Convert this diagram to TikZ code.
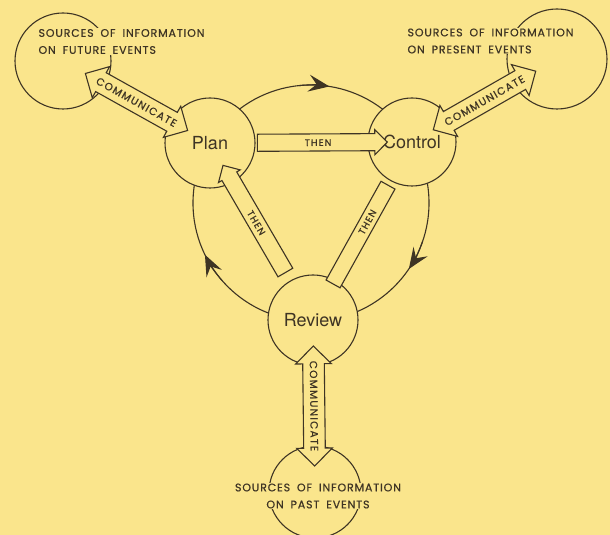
\documentclass[tikz,border=0pt]{standalone}
\usepackage{fontspec}
\setmainfont{TeX Gyre Heros}
\newfontfamily\capsfont[LetterSpace=12, FakeBold=0.6]{Poppins}
\newfontfamily\sourcefont[LetterSpace=8, WordSpace=1.8, FakeBold=0.6]{Poppins}
\usetikzlibrary{shapes.arrows,arrows.meta}
\definecolor{paper}{RGB}{250,229,140}
\definecolor{ink}{RGB}{62,52,36}

\begin{document}
\begin{tikzpicture}[x=1pt, y=1pt, line width=1.1pt, color=ink,
	stage/.style={circle, draw=ink, fill=paper, minimum size=90pt, inner sep=0pt,
		font=\fontsize{18}{20}\selectfont},
	source/.style={circle, draw=ink, fill=paper, minimum size=96pt, inner sep=0pt},
	sourcetext/.style={fill=paper, inner sep=1pt, font=\sourcefont\fontsize{11}{17}\selectfont},
	commarrow/.style={double arrow, draw=ink, fill=paper, sloped, minimum height=#1,
		double arrow head extend=7pt, text height=7.5pt, text depth=0pt,
		inner ysep=6.5pt, inner xsep=2pt, font=\capsfont\fontsize{10.5}{12}\selectfont},
	thenarrow/.style={single arrow, draw=ink, fill=paper, sloped, minimum height=#1,
		single arrow head extend=4pt, text height=7pt, text depth=0pt,
		inner ysep=4.5pt, inner xsep=2pt, font=\capsfont\fontsize{9.5}{11}\selectfont},
	thenbar/.style={rectangle, draw=ink, fill=paper, sloped, minimum width=113pt,
		minimum height=16pt, inner sep=0pt},
	thentext/.style={sloped, inner sep=0pt, font=\capsfont\fontsize{9.5}{11}\selectfont},
	cyclearrow/.style={-{Stealth[length=21pt, width=17pt, inset=8pt]}}
	]
	
	\useasboundingbox (0,0) rectangle (610,535);
	\fill[paper] (0,0) rectangle (610,535);
	
	\coordinate (ring) at (311,332);
	
	% Cycle
	\draw (ring) circle[radius=118];
	\foreach \from/\to in {96/81, -19/-34, 221/206}
		\draw[cyclearrow] (ring) ++(\from:118) arc[start angle=\from, end angle=\to, radius=118];
	
	% Stages
	\node[stage] (plan) at (210,392) {Plan};
	\node[stage, minimum size=88pt] (control) at (412,393) {Control};
	\node[stage] (review) at (313,215) {Review};
	
	% Sources
	\node[source] (future) at (63,474) {};
	\node[source, minimum size=100pt] (present) at (557,476) {};
	\node[source, minimum size=92pt] (past) at (315,43) {};
	
	\node[sourcetext, anchor=west, align=left] (futuretext) at (37,493.5)
		{SOURCES OF INFORMATION\\ON FUTURE EVENTS};
	\node[sourcetext, anchor=west, align=left] (presenttext) at (406,494)
		{SOURCES OF INFORMATION\\ON PRESENT EVENTS};
	\node[sourcetext, align=center] (pasttext) at (318,39)
		{SOURCES OF INFORMATION\\ON PAST EVENTS};
	
	% Communicate
	\path (future.center) -- node[commarrow=115pt] (futurelink) {COMMUNICATE} (plan.center);
	\path (control.center) -- node[commarrow=118pt] (presentlink) {COMMUNICATE} (present.center);
	\path (past.center) -- node[commarrow=120pt] (pastlink) {COMMUNICATE} (review.center);
	
	% Then
	\path (plan.center) -- node[thenarrow=130pt, pos=.535] (planthen) {THEN} (control.center);
	\path (plan.center) -- node[thenarrow=124pt, pos=.45, shape border rotate=180] (reviewthen) {THEN} (review.center);
	\path (control.center) -- node[thenbar, pos=.52] (controlthen) {}
		node[thentext, pos=.45] {THEN} (review.center);
	
\end{tikzpicture}
\end{document}
